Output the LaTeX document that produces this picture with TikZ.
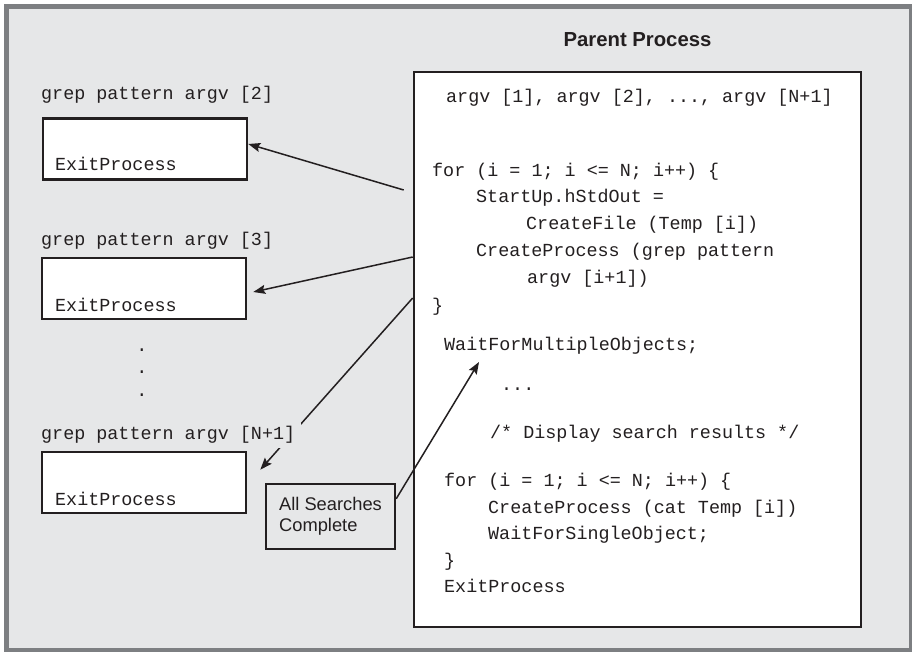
\documentclass[tikz,border=0pt]{standalone}
\usepackage{fontspec}
\setmainfont{Liberation Sans}
\setsansfont{Liberation Sans}
\setmonofont{Liberation Mono}
\usetikzlibrary{arrows.meta}
\definecolor{panel}{HTML}{E6E7E8}
\definecolor{frame}{HTML}{7D7F82}
\definecolor{ink}{HTML}{231F20}
\tikzset{
  code/.style={font=\ttfamily\fontsize{18.4}{22}\selectfont, inner sep=0pt, anchor=base west, text=ink},
  proc/.style={draw=ink, line width=2.6pt, fill=white, minimum width=204pt, minimum height=61pt, inner sep=0pt},
  tag/.style={code, fill=panel, inner xsep=6pt, inner ysep=5pt},
  call/.style={draw=ink, line width=1.5pt, -{Stealth[length=12pt,width=9pt,inset=2pt]}},
}
\begin{document}
\begin{tikzpicture}[x=1pt, y=-1pt]
    \useasboundingbox (0,0) rectangle (912,652);
    \fill[white] (0,0) rectangle (912,652);
    \draw[draw=frame, fill=panel, line width=5pt] (6.5,6.5) rectangle (911.5,650.5);

    % parent side
    \path (637.5,47) node[anchor=base, text=ink, font=\sffamily\bfseries\fontsize{20.3}{22}\selectfont] (title) {Parent Process};
    \path (637.5,349.5) node[draw=ink, line width=2.6pt, fill=white, minimum width=447pt, minimum height=555pt] (parent) {};

    \path (446,103) node[code] (argvs)    {argv [1], argv [2], ..., argv [N+1]};
    \path (432,177) node[code] (for1)     {for (i = 1; i <= N; i++) \{};
    \path (476,203) node[code] (stdout)   {StartUp.hStdOut =};
    \path (526,230) node[code] (mkfile)   {CreateFile (Temp [i])};
    \path (476,257) node[code] (spawn)    {CreateProcess (grep pattern};
    \path (527,283) node[code] (spawnarg) {argv [i+1])};
    \path (432,311) node[code] (end1)     {\}};
    \path (444,350) node[code] (waitall)  {WaitForMultipleObjects;};
    \path (501,390) node[code] (more)     {...};
    \path (490,438) node[code] (comment)  {/* Display search results */};
    \path (444,486) node[code] (for2)     {for (i = 1; i <= N; i++) \{};
    \path (488,513) node[code] (cat)      {CreateProcess (cat Temp [i])};
    \path (488,539) node[code] (waitone)  {WaitForSingleObject;};
    \path (444,566) node[code] (end2)     {\}};
    \path (444,592) node[code] (quit)     {ExitProcess};

    % children
    \path (145,149)   node[proc] (grep1) {};
    \path (144,288.5) node[proc] (grep2) {};
    \path (144,482.5) node[proc] (grepn) {};
    \path (55,171) node[code] (exit1) {ExitProcess};
    \path (55,311) node[code] (exit2) {ExitProcess};
    \path (55,505) node[code] (exitn) {ExitProcess};
    \foreach \y [count=\k] in {351,373,396}
        \path (142,\y) node[code, anchor=base] (dot\k) {.};

    \path (330.5,516.5) node[draw=ink, line width=2.4pt, fill=panel, minimum width=129pt, minimum height=65pt,
        align=left, text=ink, font=\sffamily\fontsize{18.3}{21.5}\selectfont] (done) {All Searches\\Complete};

    \draw[call] ([shift={(-9pt,159.5pt)}]parent.west) -- ([yshift=5pt]grep1.east);
    \draw[call] ([yshift=92.5pt]parent.west) -- ([xshift=6pt,yshift=-3.5pt]grep2.east);
    \draw[call] ([yshift=51.5pt]parent.west) -- ([shift={(13pt,-19pt)}]grepn.north east);
    \draw[call] ([yshift=-16pt]done.north east) -- ([shift={(35pt,-8pt)}]waitall.south west);

    \path (35,100) node[tag] (label1) {grep pattern argv [2]};
    \path (35,246) node[tag] (label2) {grep pattern argv [3]};
    \path (35,439) node[tag] (labeln) {grep pattern argv [N+1]};
\end{tikzpicture}
\end{document}
